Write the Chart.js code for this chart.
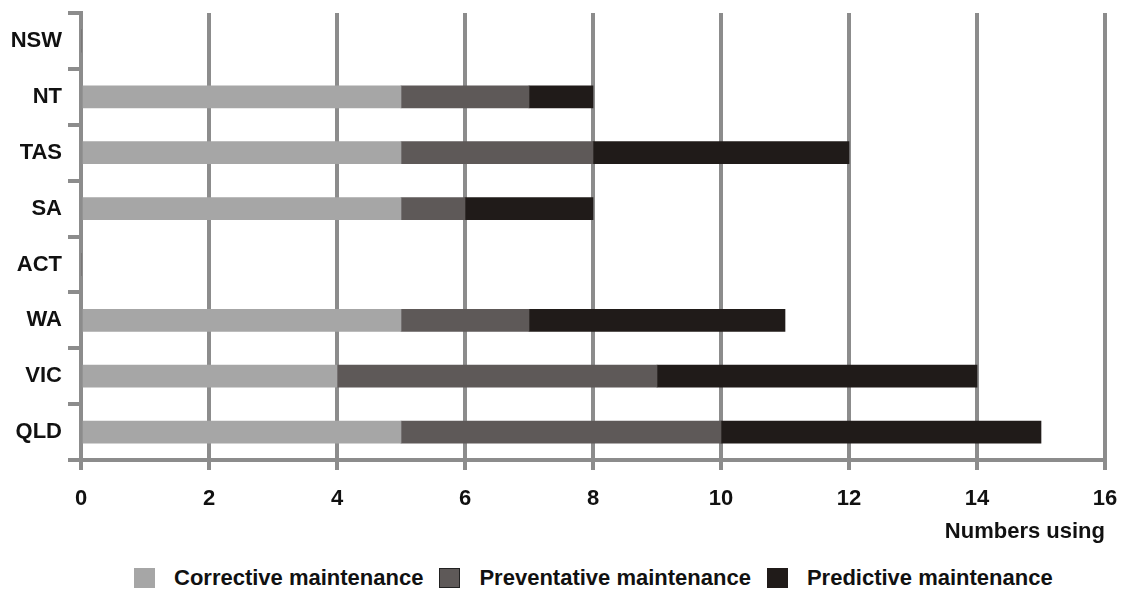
<!DOCTYPE html>
<html>
<head>
<meta charset="utf-8">
<script src="https://cdn.jsdelivr.net/npm/chart.js@4"></script>
<style>
  body { margin: 0; background: #fff; font-family: "Liberation Sans", Arial, sans-serif; }
  #wrap { position: relative; width: 1124px; height: 590px; }
  #legend { position: absolute; left: 134px; top: 565px; display: flex; align-items: center;
            font-weight: bold; font-size: 22px; color: #111; white-space: nowrap; }
  #legend .item { display: flex; align-items: center; margin-right: 16px; }
  #legend .box { width: 21px; height: 20px; margin-right: 19px; box-sizing: border-box; }
</style>
</head>
<body>
<div id="wrap">
  <canvas id="chart" width="1124" height="555"></canvas>
  <div id="legend"></div>
</div>
<script>
// categories from top to bottom
let states = ['NSW', 'NT', 'TAS', 'SA', 'ACT', 'WA', 'VIC', 'QLD']
// one series per type of maintenance
let corrective   = [0, 5, 5, 5, 0, 5, 4, 5]
let preventative = [0, 2, 3, 1, 0, 2, 5, 5]
let predictive   = [0, 1, 4, 2, 0, 4, 5, 5]
let seriesNames = ['Corrective maintenance', 'Preventative maintenance', 'Predictive maintenance']
let colors = ['#a6a6a6', '#5e5958', '#201b19']
let legendBorders = ['#a6a6a6', '#222', '#201b19']
let xTicks = [0, 2, 4, 6, 8, 10, 12, 14, 16]

let gridColor = '#8c8c8c'
let font = { family: '"Liberation Sans", Arial, sans-serif', size: 22, weight: 'bold' }

let chart = new Chart(document.getElementById('chart'), {
  type: 'bar',
  data: {
    labels: states,
    datasets: [corrective, preventative, predictive].map((values, i) => ({
      label: seriesNames[i],
      data: values,
      backgroundColor: colors[i],
      borderWidth: 0,
      barThickness: 22
    }))
  },
  options: {
    indexAxis: 'y',
    responsive: false,
    animation: false,
    layout: { padding: { top: 13, right: 19, left: 0, bottom: 0 } },
    plugins: { legend: { display: false }, tooltip: { enabled: false } },
    scales: {
      x: {
        stacked: true,
        min: xTicks[0],
        max: xTicks[xTicks.length - 1],
        afterBuildTicks: scale => { scale.ticks = xTicks.map(v => ({ value: v })) },
        //vi styrer selv højden og fjerner den ekstra luft som labels giver
        afterFit: scale => { scale.height = 95; scale.paddingLeft = 0; scale.paddingRight = 0 },
        grid: { color: gridColor, lineWidth: 4, tickLength: 10 },
        border: { color: gridColor, width: 4 },
        ticks: { color: '#111', font: font, padding: 16, maxRotation: 0 },
        title: { display: true, text: 'Numbers using', align: 'end', color: '#111', font: font,
                 padding: { top: 0, bottom: 10 } }
      },
      y: {
        stacked: true,
        afterFit: scale => { scale.width = 81; scale.paddingTop = 0; scale.paddingBottom = 0 },
        grid: { color: gridColor, lineWidth: 4, tickLength: 13, drawOnChartArea: false, offset: true },
        border: { color: gridColor, width: 4 },
        ticks: { color: '#111', font: font, padding: 6 }
      }
    }
  }
})

// legend under the chart
let legend = document.getElementById('legend')
seriesNames.map((name, i) => {
  let item = document.createElement('div')
  item.className = 'item'
  item.innerHTML = '<div class="box" style="background:' + colors[i] + ';border:1.5px solid ' + legendBorders[i] + '"></div>' + name
  legend.appendChild(item)
})
</script>
</body>
</html>
